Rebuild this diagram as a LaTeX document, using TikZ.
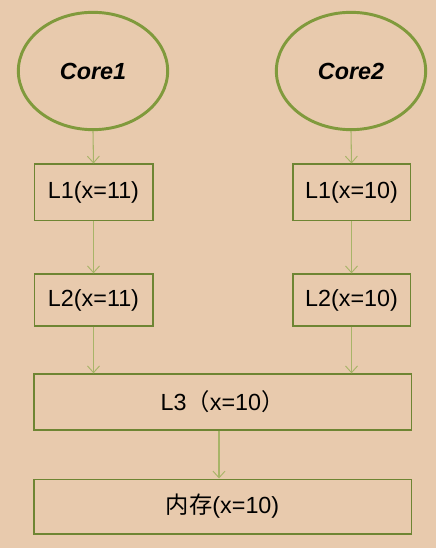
\documentclass[tikz,border=0pt]{standalone}
\usepackage{fontspec}
\setmainfont{Liberation Sans}
\newfontfamily\cjk{Noto Sans CJK SC}
\usetikzlibrary{shapes.geometric,arrows.meta}
\definecolor{bgc}{HTML}{E8CAAD}
\definecolor{elc}{HTML}{809A3C}
\definecolor{boxc}{HTML}{6E8533}
\definecolor{arc}{HTML}{A8B468}
\begin{document}
\begin{tikzpicture}[x=0.75pt,y=-0.75pt,
  core/.style={ellipse,draw=elc,line width=2.2pt,minimum width=112pt,minimum height=88pt,inner sep=0pt,font=\fontsize{17.5}{20}\selectfont\bfseries\itshape},
  cache/.style={rectangle,draw=boxc,line width=1pt,inner sep=0pt,font=\fontsize{17.5}{20}\selectfont},
  conn/.style={draw=arc,line width=0.8pt,-{Straight Barb[length=5pt,width=9pt,line width=0.7pt]}}]
\fill[bgc] (0,0) rectangle (436,548);
\useasboundingbox (0,0) rectangle (436,548);
\node[core] (c1) at (93,71) {Core1};
\node[core] (c2) at (351,71) {Core2};
\node[cache,minimum width=89pt,minimum height=42.5pt] (l1a) at (93.5,192.5) {L1(x=11)};
\node[cache,minimum width=88pt,minimum height=42.5pt] (l1b) at (351.5,192.5) {L1(x=10)};
\node[cache,minimum width=89pt,minimum height=39pt] (l2a) at (93.5,300) {L2(x=11)};
\node[cache,minimum width=88pt,minimum height=39pt] (l2b) at (351.5,300) {L2(x=10)};
\node[cache,minimum width=283pt,minimum height=42pt] (l3) at (222.5,402) {L3{\cjk （}x=10{\cjk ）}};
\node[cache,minimum width=283pt,minimum height=41pt] (mem) at (222.5,506.5) {{\cjk 内存}(x=10)};
\draw[conn] (c1.south) -- (l1a.north);
\draw[conn] (c2.south) -- (l1b.north);
\draw[conn] (l1a.south) -- (l2a.north);
\draw[conn] (l1b.south) -- (l2b.north);
\draw[conn] (l2a.south) -- (l3.north -| l2a.south);
\draw[conn] (l2b.south) -- (l3.north -| l2b.south);
\draw[conn] (l3.south -| 219,0) -- (mem.north -| 219,0);
\end{tikzpicture}
\end{document}
